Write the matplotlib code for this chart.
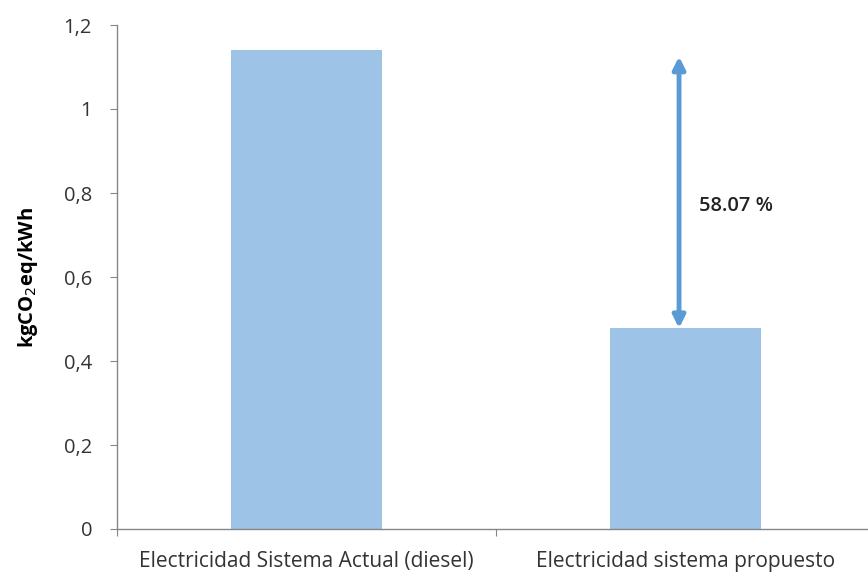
import matplotlib
matplotlib.use("Agg")
import matplotlib.pyplot as plt
from matplotlib.ticker import FuncFormatter

categories = ["Electricidad Sistema Actual (diesel)", "Electricidad sistema propuesto"]
values = [1.14, 0.478]
reduction_label = "58.07 %"
y_ticks = [0, 0.2, 0.4, 0.6, 0.8, 1.0, 1.2]

plt.rcParams['font.family'] = ['Open Sans', 'DejaVu Sans']

fig = plt.figure(figsize=(8.68, 5.76), dpi=100)
ax = fig.add_axes([117 / 868, 47 / 576, 758 / 868, 504 / 576])

x = list(range(len(categories)))
ax.bar(x, values, width=0.4, color="#9DC3E6", zorder=2)

ax.set_xlim(-0.5, len(categories) - 0.5)
ax.set_ylim(0, 1.2)

# Category boundary ticks (major) and centred labels (minor)
ax.set_xticks([i - 0.5 for i in range(len(categories) + 1)])
ax.set_xticklabels([])
ax.set_xticks(x, minor=True)
ax.set_xticklabels(categories, minor=True, fontsize=15, color="#333333")
ax.tick_params(axis="x", which="major", length=5, color="#868686", direction="out")
ax.tick_params(axis="x", which="minor", length=0, pad=16)

ax.set_yticks(y_ticks)
ax.yaxis.set_major_formatter(FuncFormatter(lambda v, p: f"{v:g}".replace(".", ",")))
ax.tick_params(axis="y", length=5, color="#868686", labelsize=14.5, labelcolor="#333333", pad=13)

for side in ("top", "right"):
    ax.spines[side].set_visible(False)
for side in ("left", "bottom"):
    ax.spines[side].set_color("#868686")
    ax.spines[side].set_linewidth(1.0)

ax.set_ylabel("kgCO$_2$eq/kWh", fontsize=14.5, fontweight="bold", color="#000000", labelpad=17)

# Double-headed arrow marking the reduction between the two bars
arrow_x = 0.983
ax.annotate("", xy=(arrow_x, values[0] - 0.015), xytext=(arrow_x, values[1]),
            arrowprops=dict(arrowstyle="<|-|>", color="#5B9BD5", lw=3.5,
                            mutation_scale=18, shrinkA=0, shrinkB=0), zorder=3)
ax.text(1.035, 0.77, reduction_label, fontsize=14.5, fontweight="semibold",
        color="#222222", va="center", ha="left")

fig.savefig("out.png", dpi=100)
